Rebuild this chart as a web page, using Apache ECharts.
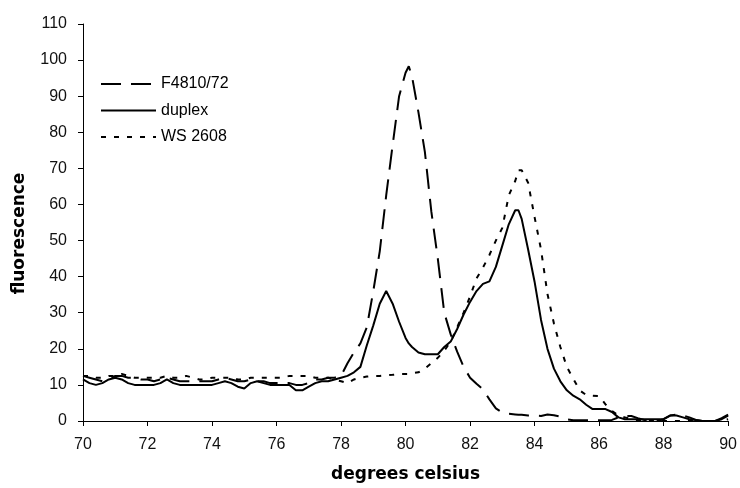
<!DOCTYPE html>
<html>
<head>
<meta charset="utf-8">
<script src="https://cdn.jsdelivr.net/npm/echarts@6/dist/echarts.min.js"></script>
<style>html,body{margin:0;padding:0;background:#fff;}#c{width:740px;height:488px;}</style>
</head>
<body>
<div id="c"></div>
<script>
var temps = [
70.0,70.2,70.4,70.6,70.8,71.0,71.2,71.4,71.6,71.8,
72.0,72.2,72.4,72.6,72.8,73.0,73.2,73.4,73.6,73.8,
74.0,74.2,74.4,74.6,74.8,75.0,75.2,75.4,75.6,75.8,
76.0,76.2,76.4,76.6,76.8,77.0,77.2,77.4,77.6,77.8,
78.0,78.2,78.4,78.6,78.8,79.0,79.2,79.4,79.6,79.8,80.0,
80.1,
80.2,80.4,80.6,80.8,81.0,81.2,81.4,81.6,81.8,82.0,82.2,82.4,82.6,82.8,83.0,83.2,83.4,
83.5,
83.6,83.8,84.0,84.2,84.4,84.6,84.8,85.0,85.2,85.4,
85.6,85.8,86.0,86.2,86.4,86.6,86.8,87.0,87.2,87.4,
87.6,87.8,88.0,88.2,88.4,88.6,88.8,89.0,89.2,89.4,
89.6,89.8,90.0
];
var f4810 = [
12.5,12,11.5,11,11.5,12.5,12.5,12,12,11.5,
11.5,11,11.5,12,11.5,11,11,11,11,11,
11,11.5,12,11.5,11,11,11.5,11,11,10.5,
10.5,10.5,10.5,10,10,10.5,11.5,11.5,12,12,
12.5,16,19,21.5,26,36,47,62.5,76.5,90,96.5,
98.3,
95.5,85.5,74.5,58,45,30,24,19.2,15,12,10.3,8.8,6,3.5,2.3,2,1.8,
1.7,
1.7,1.5,1.5,1.4,1.8,1.6,1.2,0.5,0.2,0.2,
0.2,0.2,0.2,0.2,0.3,1,1.4,1.4,0.8,0.3,
0,0,0.5,1.5,1.8,1.5,1,0.3,0,0,
0,0.8,1.8
];
var duplex = [
11.5,10.5,10,10.5,11.5,12,11.5,10.5,10,10,
10,10,10.5,11.5,10.5,10,10,10,10,10,
10,10.5,11,10.5,9.5,9,10.5,11,10.5,10,
10,10,10,8.5,8.5,9.5,10.5,11,11,11.5,
12,12.5,13.5,15,21,26.5,32.5,36,32.5,27.5,23,
21.5,
20.5,19,18.5,18.5,18.5,20.5,22,25.5,29.5,33,36,38,38.7,42.7,48.6,54.5,58.4,
58.4,
56,47.5,38.6,28,20,14.5,11,8.5,7,6,
4.5,3.3,3.3,3.3,2.5,1,0.5,0.5,0.5,0.5,
0.5,0.5,0.5,1.5,1.5,1,0.5,0.3,0,0,
0,0.5,1.5
];
var ws2608 = [
12.5,12.5,12,12,12.5,12.5,13,12.5,12,12,
12,12,12,12.5,12,12,12.5,12,11.5,11.5,
12,12,12,12,11.5,11.5,12,12,12,12,
12,12,12.5,12.5,12.5,12.5,12,12,12,11.5,
11,10.5,11.5,12,12.3,12.5,12.5,12.7,12.8,13,13,
13,
13.2,13.5,14.5,16,17.5,19.5,22,26,30,34.5,39.5,42.5,46,50,53.5,62.5,66.5,
69.5,
69.5,66,56.5,47.5,35.2,27,20.5,15,11.7,8.5,
7.2,7,6.9,4.6,2.8,1.5,1,0.5,0.2,0,
0,0,0,0,0,0,0,0,0,0,
0,0,0.5
];
var seriesNames = ['F4810/72', 'duplex', 'WS 2608'];
var xTicks = {min: 70, max: 90, interval: 2};
var yTicks = {min: 0, max: 110, interval: 10};

function pairs(vals) {
  return temps.map(function (t, i) { return [t, vals[i]]; });
}

var chart = echarts.init(document.getElementById('c'), null, {renderer: 'canvas'});
var FONT = 'Liberation Sans, Arial, sans-serif';
chart.setOption({
  animation: false,
  backgroundColor: '#ffffff',
  grid: {left: 83, right: 10, top: 24, bottom: 63, containLabel: false},
  legend: {
    orient: 'vertical', left: 100, top: 76, padding: 0, itemWidth: 55, itemHeight: 14, itemGap: 10.5,
    itemStyle: {opacity: 0},
    textStyle: {fontFamily: FONT, fontSize: 16, color: '#000'},
    data: seriesNames
  },
  xAxis: {
    type: 'value', min: xTicks.min, max: xTicks.max, interval: xTicks.interval,
    name: 'degrees celsius', nameLocation: 'middle', nameGap: 45,
    nameTextStyle: {fontFamily: 'DejaVu Sans', fontWeight: 'bold', fontSize: 17, color: '#000'},
    axisLine: {lineStyle: {color: '#000', width: 1}},
    axisTick: {length: 5, lineStyle: {color: '#000'}},
    axisLabel: {fontFamily: FONT, fontSize: 16, color: '#111', margin: 16},
    splitLine: {show: false}
  },
  yAxis: {
    type: 'value', min: yTicks.min, max: yTicks.max, interval: yTicks.interval,
    name: 'fluorescence', nameLocation: 'middle', nameGap: 55,
    nameTextStyle: {fontFamily: 'DejaVu Sans', fontWeight: 'bold', fontSize: 17, color: '#000', padding: [0, 22, 0, 0]},
    axisLine: {show: true, lineStyle: {color: '#000', width: 1}},
    axisTick: {show: true, length: 5, lineStyle: {color: '#000'}},
    axisLabel: {fontFamily: FONT, fontSize: 16, color: '#111', margin: 16},
    splitLine: {show: false}
  },
  series: [
    {name: seriesNames[0], type: 'line', data: pairs(f4810), showSymbol: false, symbol: 'none',
     color: '#000', lineStyle: {color: '#000', width: 2, type: [20, 10]}},
    {name: seriesNames[1], type: 'line', data: pairs(duplex), showSymbol: false, symbol: 'none',
     color: '#000', lineStyle: {color: '#000', width: 2, type: 'solid'}},
    {name: seriesNames[2], type: 'line', data: pairs(ws2608), showSymbol: false, symbol: 'none',
     color: '#000', lineStyle: {color: '#000', width: 2, type: [5, 8]}}
  ]
});
</script>
</body>
</html>
